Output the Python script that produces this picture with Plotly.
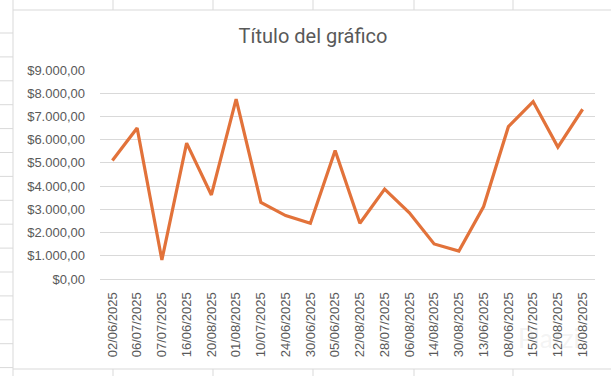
import plotly.graph_objects as go

dates = ["02/06/2025", "06/07/2025", "07/07/2025", "16/06/2025", "20/08/2025",
         "01/08/2025", "10/07/2025", "24/06/2025", "30/06/2025", "05/06/2025",
         "22/08/2025", "28/07/2025", "06/08/2025", "14/08/2025", "30/08/2025",
         "13/06/2025", "08/06/2025", "15/07/2025", "12/08/2025", "18/08/2025"]
values = [5100, 6500, 820, 5850, 3620, 7750, 3300, 2730, 2400, 5530,
          2400, 3870, 2850, 1510, 1200, 3120, 6560, 7640, 5680, 7310]
y_ticks = [0, 1000, 2000, 3000, 4000, 5000, 6000, 7000, 8000, 9000]
y_labels = ["$0,00", "$1.000,00", "$2.000,00", "$3.000,00", "$4.000,00",
            "$5.000,00", "$6.000,00", "$7.000,00", "$8.000,00", "$9.000,00"]
title_text = "Título del gráfico"

W, H = 611, 376
L, R, T, B = 100, 16, 70, 97
pw, ph = W - L - R, H - T - B


def px(x):
    return (x - L) / pw


def py(y):
    return (H - B - y) / ph


fig = go.Figure()
fig.add_trace(go.Scatter(
    x=dates, y=values, mode="lines",
    line=dict(color="#E2723A", width=3.2),
    hoverinfo="skip", showlegend=False,
))

grid = "#d9d9d9"
shapes = []
# chart area frame
shapes.append(dict(type="rect", xref="paper", yref="paper",
                   x0=px(13), x1=px(W + 5), y0=py(369), y1=py(10),
                   line=dict(color=grid, width=1), layer="below"))
# spreadsheet cell lines outside the chart
for cx in [13, 113, 213, 313, 414, 513]:
    shapes.append(dict(type="line", xref="paper", yref="paper",
                       x0=px(cx), x1=px(cx), y0=py(0), y1=py(10),
                       line=dict(color=grid, width=1)))
    shapes.append(dict(type="line", xref="paper", yref="paper",
                       x0=px(cx), x1=px(cx), y0=py(369), y1=py(H),
                       line=dict(color=grid, width=1)))
k = 0
while 33 + 23.9 * k < H:
    ry = 33 + 23.9 * k
    shapes.append(dict(type="line", xref="paper", yref="paper",
                       x0=px(0), x1=px(13), y0=py(ry), y1=py(ry),
                       line=dict(color=grid, width=1)))
    k += 1

fig.update_layout(
    width=W, height=H,
    margin=dict(l=L, r=R, t=T, b=B, autoexpand=False),
    paper_bgcolor="white", plot_bgcolor="white",
    title=dict(text=title_text, x=(313 - L) / pw, xref="paper", xanchor="center",
               y=1 - 36 / H, yanchor="middle",
               font=dict(family="Roboto", size=20, color="#595959")),
    shapes=shapes,
    annotations=[dict(text="Platzi", xref="paper", yref="paper",
                      x=px(582), y=py(356), showarrow=False,
                      font=dict(family="Lato", size=26,
                                color="rgba(190,190,190,0.18)"))],
    xaxis=dict(
        type="category", tickangle=-90, showgrid=False,
        range=[-0.5, len(dates) - 0.5],
        showline=True, linecolor=grid, linewidth=1, ticks="",
        ticklabelstandoff=7,
        tickfont=dict(family="Liberation Sans", size=13, color="#595959"),
        fixedrange=True,
    ),
    yaxis=dict(
        range=[0, 9000], tickvals=y_ticks, ticktext=y_labels,
        showgrid=True, gridcolor=grid, gridwidth=1, zeroline=False,
        showline=False, ticks="", ticklabelstandoff=14,
        tickfont=dict(family="Liberation Sans", size=13, color="#595959"),
        fixedrange=True,
    ),
)

fig.write_html("out.html")
